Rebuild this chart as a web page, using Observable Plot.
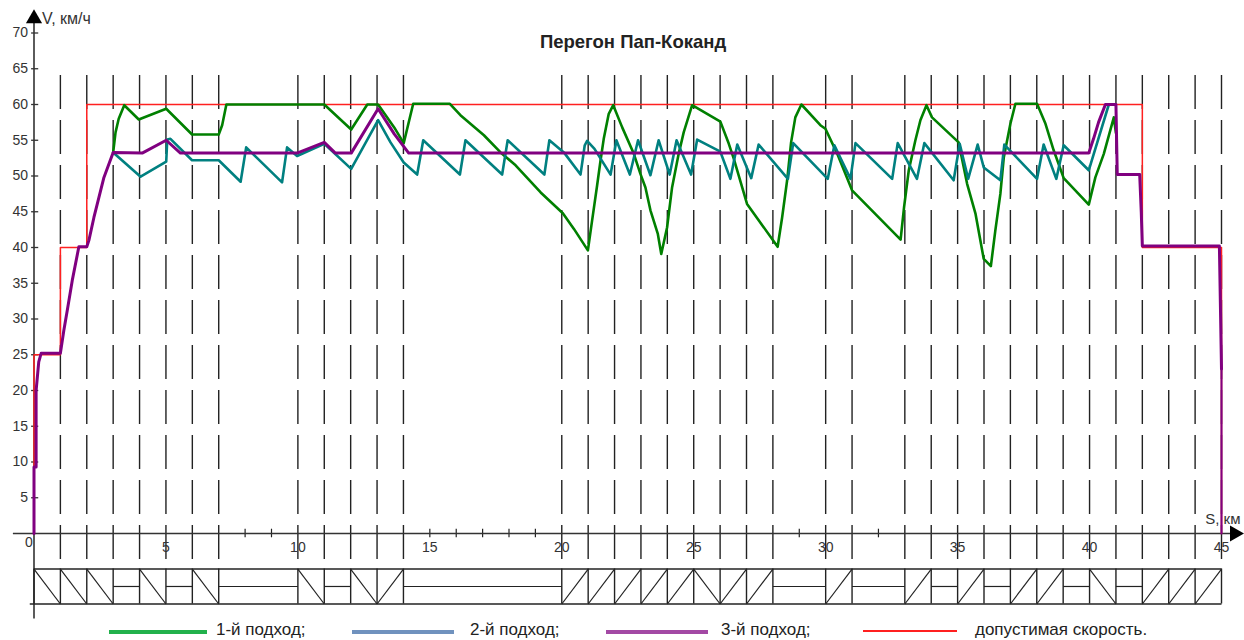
<!DOCTYPE html>
<html lang="ru">
<head>
<meta charset="utf-8">
<script src="https://cdn.jsdelivr.net/npm/d3@7"></script>
<script src="https://cdn.jsdelivr.net/npm/@observablehq/plot@0.6"></script>
<style>
html,body{margin:0;padding:0;background:#fff;overflow:hidden}
#chart svg{display:block}
#legend{position:relative;width:1244px;height:18px;font:17px "Liberation Sans",Arial,sans-serif;color:#222}
#legend i{position:absolute;top:8px;display:block}
#legend span{position:absolute;top:-1px;line-height:18px;white-space:nowrap}
</style>
</head>
<body>
<div id="chart"></div>
<div id="legend"></div>
<script>
const titleText = "Перегон Пап-Коканд";
const yAxisLabel = "V, км/ч";
const xAxisLabel = "S, км";
const yTicks = [5,10,15,20,25,30,35,40,45,50,55,60,65,70];
const xTicks = [5,10,15,20,25,30,35,40,45];
const minorKm = [8,9,15,16,17,18,19,29,32];
const stationKm = [1,2,3,4,5,6,7,10,11,12,13,14,20,21,22,23,24,25,26,27,28,30,31,33,34,35,36,37,38,39,40,41,42,43,44,45];

const trackFrom = [0,1,2,3,4,5,6,7,10,11,12,13,14,20,21,22,23,24,25,26,27,28,30,31,33,34,35,36,37,38,39,40,41,42,43,44];
const trackTo   = [1,2,3,4,5,6,7,10,11,12,13,14,20,21,22,23,24,25,26,27,28,30,31,33,34,35,36,37,38,39,40,41,42,43,44,45];
const trackKind = ["d","d","d","f","d","f","d","f","d","f","d","u","f","u","u","u","u","u","d","u","u","f","u","f","u","f","u","f","u","u","f","d","f","u","u","u"];

const limitKm = [0,0,1,1,2,2,42,42,45,45];
const limitV  = [0,25,25,40,40,60,60,40,40,0];

const approach1Km = [3,3.09,3.21,3.42,3.97,5.01,5.99,7,7.13,7.29,11,12.02,12.63,13.04,13.65,14.01,14.37,15.76,16.16,17.05,17.68,18.25,19.2,20.04,20.46,20.99,21.15,21.34,21.47,21.59,21.78,21.95,22.29,22.73,22.98,23.17,23.36,23.64,23.77,23.99,24.18,24.43,24.62,24.94,26.01,26.33,26.52,27.02,28.18,28.35,28.54,28.69,28.85,29.08,29.8,29.99,30.44,31,32.84,32.97,33.15,33.4,33.59,33.82,34.03,35.04,35.36,35.68,35.99,36.26,36.43,36.62,36.75,37,37.19,38.01,38.33,38.64,39.02,39.97,40.22,40.54,40.92,41];
const approach1V  = [53.3,56.1,58,59.9,57.9,59.4,55.8,55.8,57.1,60,60,56.5,60,60,56.8,54.6,60.1,60.1,58.5,55.7,53.3,51.5,47.7,44.8,42.6,39.6,43.8,48.7,52.2,55.2,58.7,59.9,56.8,53.1,50.3,48.4,45.2,41.9,39.1,42.8,48.4,53.1,56.1,59.9,57.6,54.5,52.4,46.1,40.1,44.2,49.4,54.7,58.2,60,57.1,56.6,53.1,48,41.1,45.6,50.8,55,57.8,59.9,58.2,54.7,48.9,44.7,38.4,37.4,42.4,47.5,52.6,57.3,60.1,60.1,57.3,53.6,49.7,46,49.8,53.1,58.2,56];

const approach2Km = [3,4.04,5.01,5.05,5.17,5.99,7,7.83,8.04,9.4,9.59,9.97,11,12.02,13.04,13.51,14.01,14.52,14.75,16.14,16.35,17.74,17.95,19.34,19.53,20.08,20.71,20.87,20.96,21.24,21.85,22.07,22.58,22.89,23.36,23.67,24.09,24.35,24.9,25.13,26.01,26.39,26.65,27.18,27.46,28.57,28.77,30.08,30.33,30.94,31.13,32.52,32.73,33.46,33.74,34.85,35.08,35.4,35.76,35.99,36.62,36.77,38.01,38.26,38.74,39.02,39.97,40.73];
const approach2V  = [53.3,49.9,52,55.1,55.2,52.2,52.2,49.2,54,49.1,54,52.8,54.5,51,57.8,54.7,51.9,50.2,55,50.2,55,50.2,55,50.2,55,53.3,50.2,54.3,54.9,53.8,50.2,55,50.2,55,50.1,55,50.2,55,50.2,55.1,53.4,49.6,54.4,49.7,54.4,49.6,54.6,49.6,54.3,49.6,54.6,49.6,54.6,49.6,54.6,49.4,54.5,49.6,54.4,51.2,49.4,54.4,49.6,54.4,49.6,54.3,50.8,60];

const approach3Km = [0,0,0.08,0.08,0.18,0.27,1,1.13,1.26,1.45,1.7,2,2.08,2.27,2.46,2.65,3,4.1,5.01,5.55,9.97,11,11.42,12.02,13.04,13.65,14.2,39.97,40.15,40.34,40.6,41,41.05,41.9,41.96,42,44.92,45];
const approach3V  = [0,9.3,9.3,20,24,25.2,25.2,28.4,31.2,35.4,40.1,40.1,41,44.2,47,49.8,53.3,53.2,55,53.2,53.2,54.7,53.2,53.2,59.4,55.9,53.2,53.2,55.2,57.5,60,60,50.2,50.2,44.9,40.2,40.2,23];
const approach3TailKm = [45,45];
const approach3TailV  = [23,0];

const legendNames  = ["1-й подход;","2-й подход;","3-й подход;","допустимая скорость."];
const legendColors = ["#22b14c","#7092be","#a349a4","#ff2020"];

const pairs = (a,b) => a.map((v,i) => [v,b[i]]);
const trackTop = -4.97, trackMid = -7.41, trackBottom = -9.86;
const trackRows = trackFrom.map((f,i) => ({from:f,to:trackTo[i],kind:trackKind[i]}));
const axisColor = "#333";

const chart = Plot.plot({
  width: 1244, height: 622,
  marginLeft: 33.5, marginRight: 23, marginTop: 32.5, marginBottom: 89,
  style: {fontFamily: '"Liberation Sans",Arial,sans-serif', background: "#fff", overflow: "visible"},
  x: {domain: [0,45]},
  y: {domain: [0,70]},
  marks: [
    Plot.ruleX(stationKm, {y1: 64.06, y2: -3.64, stroke: "#222", strokeWidth: 1.4, strokeDasharray: "34,11"}),
    Plot.ruleX(minorKm, {y1: 0.6, y2: -0.6, stroke: "#222", strokeWidth: 1.2}),
    // axes
    Plot.link([0], {x1: 0, x2: 0, y1: 72.9, y2: -11.9, stroke: axisColor, strokeWidth: 1.6}),
    Plot.link([0], {x1: -0.8, x2: 45.7, y1: 0, y2: 0, stroke: axisColor, strokeWidth: 1.3}),
    Plot.link(yTicks, {x1: -0.11, x2: 0.16, y1: d => d, y2: d => d, stroke: axisColor, strokeWidth: 1.3}),
    Plot.axisY({ticks: yTicks, tickSize: 0, tickPadding: 6, fontSize: 14, fill: "#333", label: null}),
    Plot.axisX({ticks: xTicks, tickSize: 0, tickPadding: 9, fontSize: 14, fill: "#333", label: null}),
    Plot.text(["0"], {x: 0, y: 0, text: d => d, fontSize: 14, fill: "#333", dx: -5, dy: 9}),
    Plot.dot([0], {x: 0, y: 72, r: 6, symbol: "triangle", fill: "#000"}),
    Plot.dot([0], {x: 45.5, y: 0, r: 6, symbol: "triangle", fill: "#000", rotate: 90}),
    Plot.text([yAxisLabel], {x: 0, y: 72, text: d => d, textAnchor: "start", fontSize: 16, fill: "#333", dx: 8}),
    Plot.text([xAxisLabel], {x: 45, y: 2, text: d => d, textAnchor: "end", fontSize: 15, fill: "#333", dx: 19}),
    Plot.text([titleText], {x: 22.7, y: 68.7, text: d => d, fontSize: 18.5, fontWeight: "bold", fill: "#222"}),
    // track profile
    Plot.link([trackTop], {x1: 0, x2: 45, y1: d => d, y2: d => d, stroke: "#222", strokeWidth: 1.5}),
    Plot.link([trackBottom], {x1: -0.16, x2: 45, y1: d => d, y2: d => d, stroke: "#222", strokeWidth: 1.5}),
    Plot.ruleX([0, ...stationKm], {y1: trackTop, y2: trackBottom, stroke: "#222", strokeWidth: 1.4}),
    Plot.link(trackRows, {
      x1: "from", x2: "to",
      y1: d => d.kind === "f" ? trackMid : d.kind === "d" ? trackTop : trackBottom,
      y2: d => d.kind === "f" ? trackMid : d.kind === "d" ? trackBottom : trackTop,
      stroke: "#222", strokeWidth: 1.2
    }),
    // speed curves
    Plot.line(pairs(limitKm, limitV), {stroke: "#ff2020", strokeWidth: 1.5}),
    Plot.line(pairs(approach1Km, approach1V), {stroke: "#008000", strokeWidth: 2.6}),
    Plot.line(pairs(approach2Km, approach2V), {stroke: "#008080", strokeWidth: 2.6}),
    Plot.line(pairs(approach3Km, approach3V), {stroke: "#800080", strokeWidth: 3}),
    Plot.line(pairs(approach3TailKm, approach3TailV), {stroke: "#800080", strokeWidth: 2})
  ]
});
document.getElementById("chart").append(chart);

const swatchLeft = [109,352,606,863], swatchWidth = [98,102,102,94], swatchHeight = [4,4,4,1.6], labelLeft = [216,470,721,975];
const legend = document.getElementById("legend");
legendNames.forEach((name,i) => {
  const s = document.createElement("i");
  s.style.cssText = `left:${swatchLeft[i]}px;width:${swatchWidth[i]}px;height:${swatchHeight[i]}px;background:${legendColors[i]}`;
  const t = document.createElement("span");
  t.style.left = labelLeft[i] + "px";
  t.textContent = name;
  legend.append(s,t);
});
</script>
</body>
</html>
